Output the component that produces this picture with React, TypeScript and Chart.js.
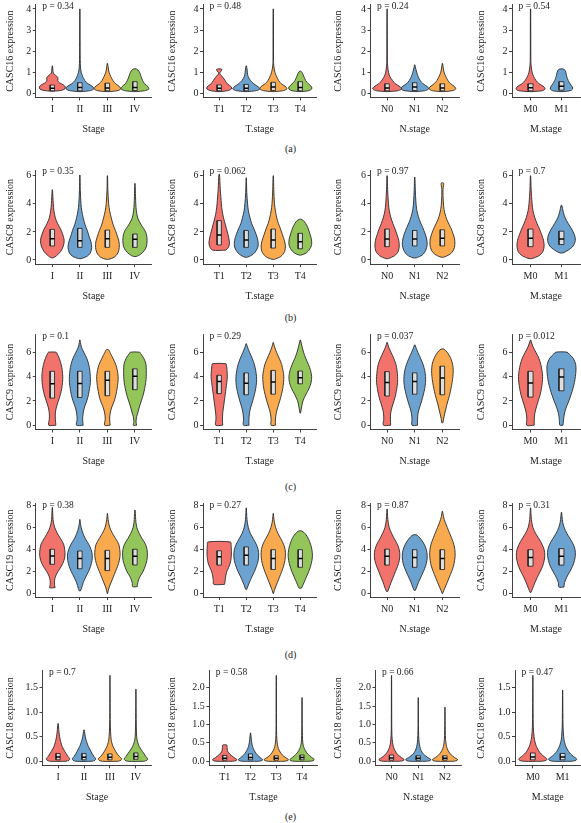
import React, { useEffect, useRef } from "react";
import { Chart, registerables } from "chart.js";

Chart.register(...registerables);

const FONT = '"Liberation Serif", "Times New Roman", Times, serif';
const TEXT = "#222222";
const LINE = "#2b2b2b";

// ---------- categories ----------
const stageLabels = ["I", "II", "III", "IV"];
const tStageLabels = ["T1", "T2", "T3", "T4"];
const nStageLabels = ["N0", "N1", "N2"];
const mStageLabels = ["M0", "M1"];
const groupColors = ["#F2736B", "#6CA2D0", "#F9AA4E", "#93C55A"];
const geneNames = ["CASC16", "CASC8", "CASC9", "CASC19", "CASC18"];
const panelTags = ["(a)", "(b)", "(c)", "(d)", "(e)"];

// ---------- p values (rows: genes, cols: Stage, T, N, M) ----------
const pValuesCASC16 = ["0.34", "0.48", "0.24", "0.54"];
const pValuesCASC8 = ["0.35", "0.062", "0.97", "0.7"];
const pValuesCASC9 = ["0.1", "0.29", "0.037", "0.012"];
const pValuesCASC19 = ["0.38", "0.27", "0.87", "0.31"];
const pValuesCASC18 = ["0.7", "0.58", "0.66", "0.47"];

// ---------- y axis ticks / ranges ----------
const yTicksCASC16 = [0, 1, 2, 3, 4];
const yTicksCASC8 = [0, 2, 4, 6];
const yTicksCASC9 = [0, 2, 4, 6];
const yTicksCASC19 = [0, 2, 4, 6, 8];
const yTicksCASC18Short = [0, 0.5, 1, 1.5];
const yTicksCASC18Long = [0, 0.5, 1, 1.5, 2];

// violin profiles: [expression value, half width (category units)], bottom -> top
// boxes: [q1, median, q3]

// ===== CASC16 =====
const casc16StageViolins = [
  [[0.1, 0.05], [0.13, 0.3], [0.2, 0.45], [0.3, 0.47], [0.4, 0.4], [0.5, 0.26], [0.6, 0.2], [0.75, 0.2], [0.85, 0.12], [0.95, 0.04], [1.1, 0.02], [1.3, 0.006]],
  [[0.08, 0.05], [0.12, 0.35], [0.2, 0.5], [0.3, 0.48], [0.45, 0.3], [0.6, 0.18], [0.8, 0.1], [1.0, 0.05], [1.2, 0.025], [1.6, 0.012], [4.0, 0.004]],
  [[0.08, 0.05], [0.12, 0.35], [0.2, 0.48], [0.3, 0.45], [0.45, 0.3], [0.6, 0.2], [0.8, 0.12], [1.0, 0.06], [1.2, 0.03], [1.42, 0.006]],
  [[0.08, 0.05], [0.12, 0.35], [0.2, 0.5], [0.3, 0.48], [0.45, 0.35], [0.6, 0.28], [0.8, 0.22], [0.95, 0.18], [1.05, 0.14], [1.15, 0.06]],
];
const casc16StageBoxes = [[0.12, 0.24, 0.39], [0.12, 0.27, 0.5], [0.12, 0.25, 0.48], [0.13, 0.28, 0.55]];

const casc16TViolins = [
  [[0.08, 0.05], [0.12, 0.3], [0.2, 0.45], [0.3, 0.45], [0.45, 0.3], [0.6, 0.22], [0.75, 0.14], [0.9, 0.04], [0.97, 0.02], [1.05, 0.07], [1.13, 0.1], [1.16, 0.02]],
  [[0.08, 0.05], [0.12, 0.35], [0.2, 0.5], [0.3, 0.45], [0.45, 0.28], [0.6, 0.16], [0.8, 0.07], [1.0, 0.04], [1.15, 0.03], [1.3, 0.006]],
  [[0.08, 0.05], [0.12, 0.35], [0.2, 0.5], [0.3, 0.47], [0.45, 0.3], [0.6, 0.2], [0.8, 0.12], [1.0, 0.06], [1.3, 0.02], [1.5, 0.01], [4.0, 0.004]],
  [[0.08, 0.05], [0.12, 0.3], [0.2, 0.42], [0.3, 0.42], [0.45, 0.3], [0.6, 0.2], [0.8, 0.13], [0.95, 0.08], [1.05, 0.02]],
];
const casc16TBoxes = [[0.12, 0.24, 0.4], [0.12, 0.24, 0.42], [0.13, 0.3, 0.52], [0.12, 0.28, 0.55]];

const casc16NViolins = [
  [[0.08, 0.05], [0.12, 0.38], [0.2, 0.52], [0.3, 0.48], [0.45, 0.3], [0.6, 0.2], [0.8, 0.1], [1.0, 0.05], [1.3, 0.02], [1.5, 0.01], [4.0, 0.004]],
  [[0.08, 0.05], [0.12, 0.35], [0.2, 0.5], [0.3, 0.47], [0.45, 0.3], [0.6, 0.2], [0.8, 0.12], [1.0, 0.07], [1.2, 0.03], [1.35, 0.005]],
  [[0.08, 0.05], [0.12, 0.35], [0.2, 0.48], [0.3, 0.45], [0.45, 0.3], [0.6, 0.2], [0.8, 0.12], [1.0, 0.06], [1.2, 0.03], [1.42, 0.006]],
];
const casc16NBoxes = [[0.12, 0.25, 0.45], [0.13, 0.3, 0.5], [0.12, 0.25, 0.45]];

const casc16MViolins = [
  [[0.08, 0.05], [0.12, 0.38], [0.2, 0.47], [0.3, 0.44], [0.45, 0.28], [0.6, 0.18], [0.8, 0.1], [1.0, 0.05], [1.3, 0.02], [1.5, 0.01], [4.0, 0.004]],
  [[0.08, 0.05], [0.12, 0.28], [0.2, 0.36], [0.3, 0.35], [0.45, 0.28], [0.6, 0.22], [0.8, 0.17], [1.0, 0.14], [1.12, 0.1], [1.16, 0.02]],
];
const casc16MBoxes = [[0.12, 0.26, 0.45], [0.15, 0.33, 0.55]];

// ===== CASC8 =====
const casc8StageViolins = [
  [[0.15, 0.03], [0.3, 0.15], [0.6, 0.3], [1.0, 0.4], [1.4, 0.43], [1.8, 0.38], [2.2, 0.3], [2.6, 0.19], [3.0, 0.11], [3.5, 0.06], [4.0, 0.035], [4.5, 0.02], [5.0, 0.005]],
  [[0.1, 0.05], [0.25, 0.25], [0.5, 0.38], [0.9, 0.43], [1.3, 0.4], [1.7, 0.33], [2.1, 0.27], [2.5, 0.19], [3.0, 0.12], [3.5, 0.07], [4.0, 0.04], [5.0, 0.015], [6.05, 0.005]],
  [[0.05, 0.05], [0.2, 0.25], [0.5, 0.38], [0.9, 0.43], [1.3, 0.42], [1.7, 0.36], [2.1, 0.29], [2.5, 0.21], [3.0, 0.14], [3.5, 0.08], [4.0, 0.045], [5.0, 0.015], [6.0, 0.005]],
  [[0.25, 0.05], [0.4, 0.2], [0.7, 0.35], [1.0, 0.42], [1.4, 0.44], [1.8, 0.42], [2.1, 0.36], [2.4, 0.26], [2.7, 0.17], [3.0, 0.1], [3.5, 0.05], [4.0, 0.03], [4.5, 0.02], [5.45, 0.005]],
];
const casc8StageBoxes = [[1.0, 1.52, 2.18], [0.9, 1.37, 2.25], [0.9, 1.52, 2.13], [0.9, 1.47, 1.85]];

const casc8TViolins = [
  [[0.7, 0.24], [0.9, 0.34], [1.2, 0.38], [1.6, 0.35], [2.0, 0.3], [2.5, 0.23], [3.0, 0.16], [3.5, 0.11], [4.0, 0.08], [4.5, 0.06], [5.0, 0.04], [5.6, 0.025], [6.1, 0.01]],
  [[0.2, 0.05], [0.4, 0.25], [0.7, 0.38], [1.0, 0.44], [1.4, 0.43], [1.8, 0.37], [2.2, 0.29], [2.6, 0.2], [3.0, 0.14], [3.5, 0.08], [4.0, 0.05], [4.8, 0.02], [5.85, 0.005]],
  [[0.05, 0.05], [0.25, 0.28], [0.6, 0.42], [1.0, 0.45], [1.4, 0.41], [1.8, 0.34], [2.2, 0.27], [2.6, 0.19], [3.0, 0.13], [3.5, 0.08], [4.0, 0.045], [5.0, 0.02], [6.0, 0.005]],
  [[0.35, 0.04], [0.5, 0.22], [0.8, 0.36], [1.1, 0.42], [1.5, 0.41], [1.9, 0.35], [2.3, 0.28], [2.6, 0.2], [2.8, 0.12], [2.9, 0.03]],
];
const casc8TBoxes = [[1.07, 1.78, 2.8], [0.9, 1.42, 2.1], [0.85, 1.42, 2.2], [0.8, 1.3, 1.9]];

const casc8NViolins = [
  [[0.1, 0.05], [0.3, 0.27], [0.6, 0.4], [1.0, 0.44], [1.4, 0.42], [1.8, 0.36], [2.2, 0.29], [2.6, 0.21], [3.0, 0.14], [3.5, 0.08], [4.0, 0.05], [5.0, 0.02], [6.0, 0.005]],
  [[0.15, 0.05], [0.35, 0.27], [0.7, 0.4], [1.1, 0.45], [1.5, 0.43], [1.9, 0.37], [2.3, 0.29], [2.7, 0.2], [3.1, 0.13], [3.6, 0.07], [4.2, 0.04], [5.0, 0.02], [5.9, 0.005]],
  [[0.2, 0.05], [0.4, 0.27], [0.7, 0.4], [1.1, 0.45], [1.5, 0.44], [1.9, 0.38], [2.3, 0.3], [2.7, 0.2], [3.1, 0.12], [3.6, 0.06], [4.2, 0.03], [5.0, 0.02], [5.3, 0.04], [5.45, 0.05], [5.5, 0.01]],
];
const casc8NBoxes = [[0.95, 1.5, 2.2], [1.0, 1.5, 2.1], [1.0, 1.55, 2.15]];

const casc8MViolins = [
  [[0.1, 0.05], [0.3, 0.27], [0.6, 0.4], [1.0, 0.44], [1.4, 0.42], [1.8, 0.36], [2.2, 0.29], [2.6, 0.21], [3.0, 0.14], [3.5, 0.08], [4.0, 0.05], [5.0, 0.02], [6.0, 0.005]],
  [[0.5, 0.05], [0.7, 0.22], [1.0, 0.38], [1.4, 0.45], [1.8, 0.42], [2.2, 0.33], [2.6, 0.22], [3.0, 0.12], [3.4, 0.06], [3.9, 0.01]],
];
const casc8MBoxes = [[0.95, 1.55, 2.2], [1.1, 1.5, 2.05]];

// ===== CASC9 =====
const casc9StageViolins = [
  [[0, 0.13], [0.5, 0.11], [1.0, 0.11], [1.5, 0.15], [2.0, 0.22], [2.5, 0.29], [3.0, 0.34], [3.5, 0.37], [4.0, 0.38], [4.5, 0.36], [5.0, 0.32], [5.5, 0.25], [5.9, 0.17], [6.0, 0.14]],
  [[0, 0.12], [0.5, 0.1], [1.0, 0.12], [1.5, 0.17], [2.0, 0.25], [2.5, 0.31], [3.0, 0.35], [3.5, 0.38], [4.0, 0.38], [4.5, 0.36], [5.0, 0.32], [5.5, 0.25], [6.0, 0.14], [6.4, 0.06], [6.8, 0.02], [7.0, 0.005]],
  [[0, 0.1], [0.5, 0.08], [1.0, 0.1], [1.5, 0.16], [2.0, 0.25], [2.5, 0.31], [3.0, 0.35], [3.5, 0.38], [4.0, 0.39], [4.5, 0.36], [5.0, 0.3], [5.5, 0.2], [5.9, 0.11], [6.2, 0.04]],
  [[0, 0.06], [0.3, 0.04], [0.7, 0.06], [1.0, 0.1], [1.5, 0.16], [2.0, 0.23], [2.5, 0.3], [3.0, 0.35], [3.5, 0.39], [4.0, 0.41], [4.5, 0.41], [5.0, 0.4], [5.5, 0.32], [5.9, 0.2], [6.0, 0.17]],
];
const casc9StageBoxes = [[2.23, 3.4, 4.43], [2.28, 3.42, 4.43], [2.42, 3.7, 4.43], [2.92, 4.02, 4.63]];

const casc9TViolins = [
  [[0, 0.13], [0.5, 0.12], [1.0, 0.13], [1.5, 0.16], [2.0, 0.19], [2.5, 0.22], [3.0, 0.25], [3.5, 0.28], [4.0, 0.3], [4.5, 0.29], [4.9, 0.27], [5.05, 0.25]],
  [[0, 0.1], [0.5, 0.1], [1.0, 0.12], [1.5, 0.17], [2.0, 0.24], [2.5, 0.3], [3.0, 0.35], [3.5, 0.38], [4.0, 0.38], [4.5, 0.35], [5.0, 0.3], [5.5, 0.22], [6.0, 0.12], [6.4, 0.05], [6.7, 0.005]],
  [[0, 0.08], [0.5, 0.08], [1.0, 0.11], [1.5, 0.17], [2.0, 0.24], [2.5, 0.3], [3.0, 0.35], [3.5, 0.38], [4.0, 0.39], [4.5, 0.36], [5.0, 0.31], [5.5, 0.22], [6.0, 0.12], [6.5, 0.04], [6.8, 0.005]],
  [[1.0, 0.01], [1.5, 0.05], [2.0, 0.1], [2.5, 0.2], [3.0, 0.32], [3.5, 0.4], [4.0, 0.42], [4.5, 0.38], [5.0, 0.3], [5.5, 0.2], [6.0, 0.12], [6.5, 0.06], [7.0, 0.005]],
];
const casc9TBoxes = [[2.6, 3.6, 4.1], [2.5, 3.45, 4.3], [2.55, 3.55, 4.5], [3.4, 3.9, 4.45]];

const casc9NViolins = [
  [[0, 0.13], [0.5, 0.12], [1.0, 0.13], [1.5, 0.18], [2.0, 0.25], [2.5, 0.31], [3.0, 0.35], [3.5, 0.38], [4.0, 0.38], [4.5, 0.36], [5.0, 0.32], [5.5, 0.24], [6.0, 0.14], [6.4, 0.06], [6.8, 0.005]],
  [[0, 0.1], [0.5, 0.1], [1.0, 0.12], [1.5, 0.18], [2.0, 0.25], [2.5, 0.31], [3.0, 0.36], [3.5, 0.39], [4.0, 0.39], [4.5, 0.36], [5.0, 0.3], [5.5, 0.21], [6.0, 0.11], [6.4, 0.04], [6.6, 0.005]],
  [[0.2, 0.02], [0.5, 0.04], [1.0, 0.09], [1.5, 0.14], [2.0, 0.2], [2.5, 0.26], [3.0, 0.31], [3.5, 0.35], [4.0, 0.38], [4.5, 0.39], [5.0, 0.37], [5.5, 0.3], [6.0, 0.17], [6.25, 0.05]],
];
const casc9NBoxes = [[2.4, 3.5, 4.4], [2.55, 3.6, 4.3], [2.5, 3.88, 4.85]];

const casc9MViolins = [
  [[0, 0.12], [0.5, 0.12], [1.0, 0.14], [1.5, 0.19], [2.0, 0.25], [2.5, 0.31], [3.0, 0.35], [3.5, 0.38], [4.0, 0.39], [4.5, 0.37], [5.0, 0.33], [5.5, 0.27], [6.0, 0.17], [6.5, 0.07], [7.0, 0.005]],
  [[0, 0.05], [0.5, 0.07], [1.0, 0.1], [1.5, 0.16], [2.0, 0.24], [2.5, 0.31], [3.0, 0.37], [3.5, 0.42], [4.0, 0.45], [4.5, 0.47], [5.0, 0.46], [5.5, 0.38], [5.85, 0.25], [6.0, 0.18]],
];
const casc9MBoxes = [[2.31, 3.47, 4.43], [2.83, 3.97, 4.63]];

// ===== CASC19 =====
const casc19StageViolins = [
  [[0.55, 0.1], [0.8, 0.08], [1.2, 0.08], [1.6, 0.12], [2.0, 0.2], [2.5, 0.33], [3.0, 0.42], [3.5, 0.46], [4.0, 0.45], [4.5, 0.41], [5.0, 0.3], [5.5, 0.18], [6.0, 0.09], [6.5, 0.04], [7.0, 0.02], [7.85, 0.004]],
  [[0.25, 0.02], [0.5, 0.06], [1.0, 0.12], [1.5, 0.21], [2.0, 0.31], [2.5, 0.39], [3.0, 0.44], [3.5, 0.45], [4.0, 0.41], [4.5, 0.32], [5.0, 0.2], [5.5, 0.11], [6.0, 0.05], [6.4, 0.02], [6.75, 0.004]],
  [[0, 0.005], [0.3, 0.03], [0.7, 0.08], [1.0, 0.13], [1.5, 0.21], [2.0, 0.29], [2.5, 0.37], [3.0, 0.43], [3.5, 0.46], [4.0, 0.45], [4.5, 0.41], [5.0, 0.3], [5.5, 0.18], [6.0, 0.09], [6.5, 0.04], [7.0, 0.015], [7.3, 0.003]],
  [[0.64, 0.08], [1.0, 0.1], [1.5, 0.17], [2.0, 0.29], [2.5, 0.37], [3.0, 0.43], [3.5, 0.45], [4.0, 0.44], [4.5, 0.38], [5.0, 0.26], [5.5, 0.15], [6.0, 0.07], [6.5, 0.035], [7.0, 0.02], [7.6, 0.004]],
];
const casc19StageBoxes = [[2.67, 3.43, 4.04], [2.27, 3.21, 3.88], [2.1, 3.2, 3.94], [2.61, 3.4, 4.04]];

const casc19TViolins = [
  [[0.85, 0.2], [1.2, 0.22], [1.6, 0.24], [2.0, 0.28], [2.4, 0.35], [2.8, 0.41], [3.2, 0.44], [3.6, 0.45], [4.0, 0.45], [4.4, 0.44], [4.7, 0.42]],
  [[0.4, 0.02], [0.8, 0.08], [1.2, 0.15], [1.6, 0.22], [2.0, 0.3], [2.5, 0.38], [3.0, 0.44], [3.5, 0.46], [4.0, 0.44], [4.5, 0.37], [5.0, 0.26], [5.5, 0.15], [6.0, 0.08], [6.5, 0.04], [7.0, 0.02], [7.8, 0.004]],
  [[0, 0.005], [0.3, 0.04], [0.7, 0.1], [1.0, 0.15], [1.5, 0.23], [2.0, 0.31], [2.5, 0.38], [3.0, 0.43], [3.5, 0.45], [4.0, 0.44], [4.5, 0.38], [5.0, 0.28], [5.5, 0.17], [6.0, 0.09], [6.5, 0.04], [7.0, 0.015], [7.3, 0.003]],
  [[0.5, 0.04], [0.8, 0.1], [1.2, 0.17], [1.6, 0.24], [2.0, 0.31], [2.5, 0.38], [3.0, 0.43], [3.5, 0.45], [4.0, 0.43], [4.5, 0.38], [5.0, 0.3], [5.4, 0.2], [5.7, 0.06]],
];
const casc19TBoxes = [[2.6, 3.35, 3.9], [2.6, 3.5, 4.25], [2.2, 3.2, 4.0], [2.4, 3.2, 4.0]];

const casc19NViolins = [
  [[0.2, 0.02], [0.5, 0.07], [1.0, 0.14], [1.5, 0.22], [2.0, 0.3], [2.5, 0.38], [3.0, 0.44], [3.5, 0.46], [4.0, 0.44], [4.5, 0.37], [5.0, 0.26], [5.5, 0.16], [6.0, 0.08], [6.5, 0.04], [7.0, 0.02], [7.7, 0.004]],
  [[0.3, 0.02], [0.6, 0.07], [1.0, 0.13], [1.5, 0.22], [2.0, 0.31], [2.5, 0.39], [3.0, 0.44], [3.5, 0.45], [4.0, 0.42], [4.5, 0.34], [4.9, 0.24], [5.2, 0.14], [5.35, 0.06]],
  [[0, 0.005], [0.3, 0.05], [0.7, 0.12], [1.0, 0.17], [1.5, 0.25], [2.0, 0.33], [2.5, 0.4], [3.0, 0.44], [3.5, 0.46], [4.0, 0.45], [4.5, 0.41], [5.0, 0.34], [5.5, 0.26], [6.0, 0.18], [6.5, 0.1], [7.0, 0.04], [7.5, 0.005]],
];
const casc19NBoxes = [[2.6, 3.4, 4.05], [2.4, 3.3, 4.0], [2.2, 3.2, 4.0]];

const casc19MViolins = [
  [[0.1, 0.01], [0.5, 0.07], [1.0, 0.14], [1.5, 0.22], [2.0, 0.31], [2.5, 0.39], [3.0, 0.44], [3.5, 0.46], [4.0, 0.44], [4.5, 0.37], [5.0, 0.27], [5.5, 0.16], [6.0, 0.08], [6.5, 0.04], [7.0, 0.02], [7.8, 0.004]],
  [[0.6, 0.08], [1.0, 0.1], [1.5, 0.17], [2.0, 0.27], [2.5, 0.36], [3.0, 0.42], [3.5, 0.45], [4.0, 0.44], [4.5, 0.38], [5.0, 0.28], [5.5, 0.17], [6.0, 0.09], [6.5, 0.04], [7.0, 0.02], [7.4, 0.004]],
];
const casc19MBoxes = [[2.5, 3.3, 4.0], [2.6, 3.4, 4.1]];

// ===== CASC18 =====
const casc18StageViolins = [
  [[0, 0.3], [0.02, 0.42], [0.05, 0.45], [0.1, 0.38], [0.15, 0.32], [0.2, 0.26], [0.3, 0.16], [0.4, 0.1], [0.5, 0.06], [0.6, 0.035], [0.7, 0.02], [0.77, 0.005]],
  [[0, 0.3], [0.02, 0.42], [0.05, 0.45], [0.1, 0.38], [0.15, 0.32], [0.2, 0.27], [0.3, 0.17], [0.4, 0.1], [0.5, 0.05], [0.57, 0.03], [0.64, 0.005]],
  [[0, 0.3], [0.02, 0.42], [0.05, 0.45], [0.1, 0.36], [0.15, 0.28], [0.2, 0.22], [0.3, 0.12], [0.4, 0.06], [0.5, 0.035], [0.7, 0.015], [1.0, 0.008], [1.75, 0.003]],
  [[0, 0.3], [0.02, 0.42], [0.05, 0.45], [0.1, 0.38], [0.15, 0.32], [0.2, 0.25], [0.3, 0.13], [0.4, 0.06], [0.5, 0.03], [0.7, 0.015], [1.0, 0.008], [1.47, 0.003]],
];
const casc18StageBoxes = [[0.03, 0.09, 0.16], [0.03, 0.08, 0.16], [0.03, 0.08, 0.15], [0.04, 0.1, 0.17]];

const casc18TViolins = [
  [[0, 0.3], [0.02, 0.45], [0.05, 0.47], [0.1, 0.36], [0.15, 0.27], [0.2, 0.19], [0.25, 0.13], [0.3, 0.1], [0.38, 0.09], [0.44, 0.08], [0.45, 0.02]],
  [[0, 0.3], [0.02, 0.45], [0.05, 0.47], [0.1, 0.38], [0.15, 0.3], [0.2, 0.23], [0.3, 0.14], [0.4, 0.08], [0.5, 0.05], [0.6, 0.03], [0.77, 0.005]],
  [[0, 0.3], [0.02, 0.45], [0.05, 0.47], [0.1, 0.36], [0.15, 0.27], [0.2, 0.2], [0.3, 0.11], [0.4, 0.06], [0.5, 0.035], [0.7, 0.015], [1.0, 0.008], [2.33, 0.003]],
  [[0, 0.3], [0.02, 0.45], [0.05, 0.47], [0.1, 0.38], [0.15, 0.3], [0.2, 0.22], [0.3, 0.12], [0.4, 0.06], [0.5, 0.03], [0.7, 0.015], [1.0, 0.008], [1.73, 0.003]],
];
const casc18TBoxes = [[0.03, 0.08, 0.16], [0.04, 0.1, 0.2], [0.03, 0.08, 0.15], [0.04, 0.1, 0.17]];

const casc18NViolins = [
  [[0, 0.3], [0.02, 0.45], [0.05, 0.47], [0.1, 0.37], [0.15, 0.28], [0.2, 0.21], [0.3, 0.12], [0.4, 0.07], [0.5, 0.04], [0.7, 0.015], [1.0, 0.008], [2.33, 0.003]],
  [[0, 0.3], [0.02, 0.45], [0.05, 0.47], [0.1, 0.36], [0.15, 0.27], [0.2, 0.19], [0.3, 0.1], [0.4, 0.06], [0.5, 0.035], [0.7, 0.015], [1.0, 0.008], [1.73, 0.003]],
  [[0, 0.3], [0.02, 0.45], [0.05, 0.47], [0.1, 0.36], [0.15, 0.27], [0.2, 0.2], [0.3, 0.11], [0.4, 0.06], [0.5, 0.035], [0.7, 0.015], [1.0, 0.008], [1.47, 0.003]],
];
const casc18NBoxes = [[0.03, 0.09, 0.17], [0.03, 0.08, 0.15], [0.03, 0.08, 0.15]];

const casc18MViolins = [
  [[0, 0.3], [0.02, 0.45], [0.05, 0.47], [0.1, 0.37], [0.15, 0.28], [0.2, 0.21], [0.3, 0.12], [0.4, 0.07], [0.5, 0.04], [0.7, 0.015], [1.0, 0.008], [1.75, 0.003]],
  [[0, 0.3], [0.02, 0.45], [0.05, 0.47], [0.1, 0.36], [0.15, 0.27], [0.2, 0.2], [0.3, 0.11], [0.4, 0.06], [0.5, 0.035], [0.7, 0.015], [1.0, 0.008], [1.45, 0.003]],
];
const casc18MBoxes = [[0.03, 0.09, 0.17], [0.03, 0.09, 0.16]];

// ---------- panel assembly ----------
type PanelDef = {
  gene: string;
  xTitle: string;
  labels: string[];
  violins: number[][][];
  boxes: number[][];
  p: string;
  yMin: number;
  yMax: number;
  yTicks: number[];
  decimals: number;
};

const xTitles = ["Stage", "T.stage", "N.stage", "M.stage"];
const xLabelSets = [stageLabels, tStageLabels, nStageLabels, mStageLabels];

function makeRow(gene: string, violinSets: number[][][][], boxSets: number[][][], ps: string[], ranges: number[][], ticks: number[][], decimals: number): PanelDef[] {
  return violinSets.map((v, c) => ({
    gene,
    xTitle: xTitles[c],
    labels: xLabelSets[c],
    violins: v,
    boxes: boxSets[c],
    p: ps[c],
    yMin: ranges[c][0],
    yMax: ranges[c][1],
    yTicks: ticks[c],
    decimals,
  }));
}

const panelRows: PanelDef[][] = [
  makeRow(geneNames[0], [casc16StageViolins, casc16TViolins, casc16NViolins, casc16MViolins], [casc16StageBoxes, casc16TBoxes, casc16NBoxes, casc16MBoxes], pValuesCASC16,
    [[-0.2, 4.2], [-0.2, 4.2], [-0.2, 4.2], [-0.2, 4.2]], [yTicksCASC16, yTicksCASC16, yTicksCASC16, yTicksCASC16], 0),
  makeRow(geneNames[1], [casc8StageViolins, casc8TViolins, casc8NViolins, casc8MViolins], [casc8StageBoxes, casc8TBoxes, casc8NBoxes, casc8MBoxes], pValuesCASC8,
    [[-0.3, 6.4], [-0.3, 6.4], [-0.3, 6.4], [-0.3, 6.4]], [yTicksCASC8, yTicksCASC8, yTicksCASC8, yTicksCASC8], 0),
  makeRow(geneNames[2], [casc9StageViolins, casc9TViolins, casc9NViolins, casc9MViolins], [casc9StageBoxes, casc9TBoxes, casc9NBoxes, casc9MBoxes], pValuesCASC9,
    [[-0.35, 7.45], [-0.35, 7.45], [-0.35, 7.45], [-0.35, 7.45]], [yTicksCASC9, yTicksCASC9, yTicksCASC9, yTicksCASC9], 0),
  makeRow(geneNames[3], [casc19StageViolins, casc19TViolins, casc19NViolins, casc19MViolins], [casc19StageBoxes, casc19TBoxes, casc19NBoxes, casc19MBoxes], pValuesCASC19,
    [[-0.3, 8.2], [-0.3, 8.2], [-0.3, 8.2], [-0.3, 8.2]], [yTicksCASC19, yTicksCASC19, yTicksCASC19, yTicksCASC19], 0),
  makeRow(geneNames[4], [casc18StageViolins, casc18TViolins, casc18NViolins, casc18MViolins], [casc18StageBoxes, casc18TBoxes, casc18NBoxes, casc18MBoxes], pValuesCASC18,
    [[-0.0815, 1.846], [-0.109, 2.46], [-0.109, 2.46], [-0.0815, 1.846]], [yTicksCASC18Short, yTicksCASC18Long, yTicksCASC18Long, yTicksCASC18Short], 1),
];

// ---------- layout (pixels) ----------
const rowTops = [4.7, 170.1, 334.5, 503.5, 670.7];
const rowBottoms = [97.5, 264.2, 429.5, 597, 765.3];
const colAxisX = [
  [35.8, 203, 370.5, 512],
  [35.8, 203, 370.5, 512],
  [35.8, 203, 370.5, 512],
  [35.8, 203, 370.5, 512],
  [42.5, 209.3, 375.5, 515],
];
const colRightX = [
  [151.5, 316.5, 459, 580],
  [151.5, 316.5, 459, 580],
  [151.5, 316.5, 459, 580],
  [151.5, 316.5, 459, 580],
  [151.5, 317.5, 461, 580.5],
];
const yTitleX = [10, 172, 338.5, 481.5];
const tagY = [149, 318, 487, 655, 817];

const VIOLIN_TENSION = 0.3;
const BOX_HALF = 0.08;
const X_AXIS_H = 38;

function violinPoints(profile: number[][], c: number) {
  const right = profile.map(([v, w]) => ({ x: c + w, y: v }));
  const left = profile.slice().reverse().map(([v, w]) => ({ x: c - w, y: v }));
  return [...right, ...left, right[0]];
}

function Panel({ def, row, col }: { def: PanelDef; row: number; col: number }) {
  const ref = useRef<HTMLCanvasElement>(null);
  const axisX = colAxisX[row][col];
  const right = colRightX[row][col];
  const top = rowTops[row];
  const bottom = rowBottoms[row];
  const canvasLeft = Math.round(yTitleX[col] - 10);
  const canvasTop = Math.max(0, Math.floor(top - 6));
  const padTop = top - canvasTop;
  const canvasW = Math.ceil(right + 3 - canvasLeft);
  const padRight = canvasW - (right - canvasLeft);
  const canvasH = Math.ceil(bottom + X_AXIS_H + 2 - canvasTop);
  const padBottom = canvasH - (bottom - canvasTop) - X_AXIS_H;
  const yAxisW = axisX - canvasLeft;
  const yTitlePad = yTitleX[col] - canvasLeft - 6;

  useEffect(() => {
    if (!ref.current) return;
    const datasets: any[] = [];
    def.violins.forEach((prof, i) => {
      datasets.push({
        data: violinPoints(prof, i + 1),
        showLine: true,
        fill: "shape",
        backgroundColor: groupColors[i],
        borderColor: LINE,
        borderWidth: 0.9,
        pointRadius: 0,
        tension: VIOLIN_TENSION,
        order: 3,
      });
    });
    def.boxes.forEach(([q1, , q3], i) => {
      const c = i + 1;
      datasets.push({
        data: [
          { x: c - BOX_HALF, y: q1 },
          { x: c + BOX_HALF, y: q1 },
          { x: c + BOX_HALF, y: q3 },
          { x: c - BOX_HALF, y: q3 },
          { x: c - BOX_HALF, y: q1 },
        ],
        showLine: true,
        fill: "shape",
        backgroundColor: "#dedede",
        borderColor: "#1a1a1a",
        borderWidth: 0.8,
        pointRadius: 0,
        tension: 0,
        order: 2,
      });
    });
    def.boxes.forEach(([, med], i) => {
      const c = i + 1;
      datasets.push({
        data: [
          { x: c - BOX_HALF, y: med },
          { x: c + BOX_HALF, y: med },
        ],
        showLine: true,
        fill: false,
        borderColor: "#000000",
        borderWidth: 1.5,
        pointRadius: 0,
        tension: 0,
        order: 1,
      });
    });

    const tickFont = { family: FONT, size: 10, lineHeight: 1.2 };
    const titleFont = { family: FONT, size: 10, lineHeight: 1.2 };
    const zeroPad = (s: any) => {
      s.paddingLeft = 0;
      s.paddingRight = 0;
      s.paddingTop = 0;
      s.paddingBottom = 0;
    };
    const pPlugin = {
      id: "pLabel",
      afterDraw(chart: any) {
        const { ctx, chartArea } = chart;
        ctx.save();
        ctx.font = `9.5px ${FONT}`;
        ctx.fillStyle = TEXT;
        ctx.textBaseline = "middle";
        ctx.textAlign = "left";
        ctx.fillText(`p = ${def.p}`, chartArea.left + 6.5, chartArea.top + 1.5);
        ctx.restore();
      },
    };

    const chart = new Chart(ref.current, {
      type: "scatter",
      data: { datasets },
      options: {
        animation: false,
        responsive: false,
        maintainAspectRatio: false,
        devicePixelRatio: 1,
        events: [],
        layout: {
          autoPadding: false,
          padding: { left: 0, top: padTop, right: padRight, bottom: padBottom },
        },
        plugins: {
          legend: { display: false },
          tooltip: { enabled: false },
          title: { display: false },
        },
        scales: {
          x: {
            type: "linear",
            min: 0.4,
            max: def.labels.length + 0.6,
            afterBuildTicks: (s: any) => {
              s.ticks = def.labels.map((_, i) => ({ value: i + 1 }));
            },
            afterFit: (s: any) => {
              s.height = X_AXIS_H;
              zeroPad(s);
            },
            ticks: {
              autoSkip: false,
              maxRotation: 0,
              minRotation: 0,
              padding: 3,
              font: tickFont,
              color: TEXT,
              callback: (v: any) => def.labels[Math.round(Number(v)) - 1] ?? "",
            },
            grid: { display: true, drawOnChartArea: false, drawTicks: true, tickLength: 3, color: LINE, lineWidth: 0.9 },
            border: { display: true, color: LINE, width: 0.9 },
            title: { display: true, text: def.xTitle, font: titleFont, color: TEXT, padding: { top: 0, bottom: 0 } },
          },
          y: {
            type: "linear",
            min: def.yMin,
            max: def.yMax,
            afterBuildTicks: (s: any) => {
              s.ticks = def.yTicks.map((v) => ({ value: v }));
            },
            afterFit: (s: any) => {
              s.width = yAxisW;
              zeroPad(s);
            },
            ticks: {
              padding: 1.5,
              font: tickFont,
              color: TEXT,
              callback: (v: any) => Number(v).toFixed(def.decimals),
            },
            grid: { display: true, drawOnChartArea: false, drawTicks: true, tickLength: 3, color: LINE, lineWidth: 0.9 },
            border: { display: true, color: LINE, width: 0.9 },
            title: { display: true, text: `${def.gene} expression`, font: titleFont, color: TEXT, padding: { top: yTitlePad, bottom: 0 } },
          },
        },
      } as any,
      plugins: [pPlugin],
    });
    return () => chart.destroy();
  }, []);

  return (
    <canvas
      ref={ref}
      width={canvasW}
      height={canvasH}
      style={{ position: "absolute", left: canvasLeft, top: canvasTop, width: canvasW, height: canvasH }}
    />
  );
}

export default function App() {
  return (
    <div style={{ position: "absolute", left: 0, top: 0, width: 581, height: 823, background: "#ffffff", overflow: "hidden" }}>
      {panelRows.map((rowDefs, r) =>
        rowDefs.map((def, c) => <Panel key={`${r}-${c}`} def={def} row={r} col={c} />)
      )}
      {panelTags.map((t, r) => (
        <div
          key={t}
          style={{
            position: "absolute",
            left: 0,
            width: 581,
            top: tagY[r] - 7,
            height: 14,
            lineHeight: "14px",
            textAlign: "center",
            fontFamily: FONT,
            fontSize: 10,
            color: TEXT,
          }}
        >
          {t}
        </div>
      ))}
    </div>
  );
}
